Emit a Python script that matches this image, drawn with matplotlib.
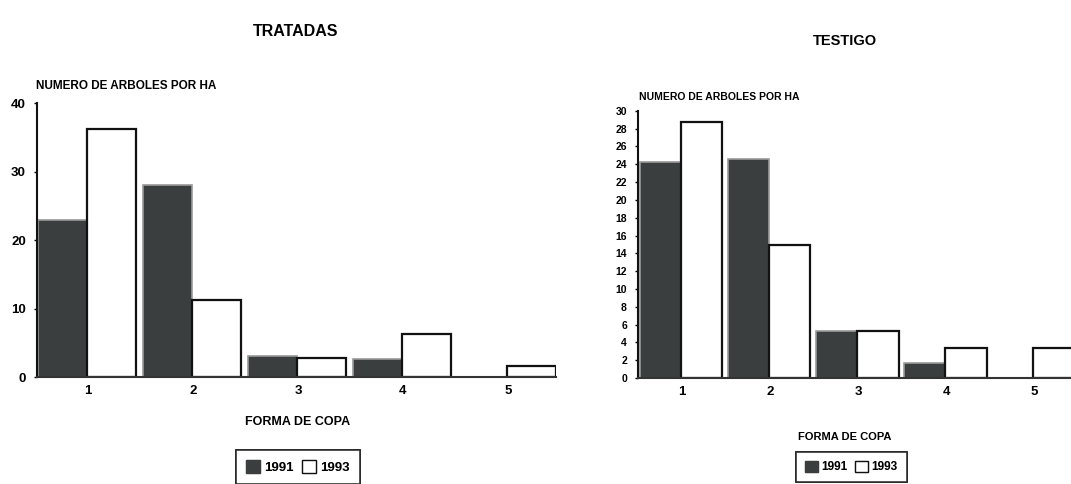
import matplotlib
matplotlib.use("Agg")
import matplotlib.pyplot as plt
import numpy as np
from matplotlib.patches import Patch

plt.rcParams['font.family'] = ['Liberation Sans', 'DejaVu Sans']
plt.rcParams['font.weight'] = 'bold'

categories = [1, 2, 3, 4, 5]
years = ["1991", "1993"]

# TRATADAS
tratadas_1991 = [22.9, 28.1, 3.1, 2.7, 0]
tratadas_1993 = [36.2, 11.2, 2.8, 6.3, 1.6]

# TESTIGO
testigo_1991 = [24.3, 24.6, 5.3, 1.7, 0]
testigo_1993 = [28.7, 14.9, 5.3, 3.4, 3.4]

DARK = "#3b3e3e"
W = 0.47

fig = plt.figure(figsize=(10.71, 4.84), dpi=100)


def draw_panel(ax, v91, v93, yticks, ymax, xlim, tick_size):
    x = np.array(categories)
    ax.bar(x - W / 2 - 0.01, v91, W, color=DARK, edgecolor="#9a9a9a", linewidth=1.2)
    ax.bar(x + W / 2 - 0.01, v93, W, color="white", edgecolor="#111111", linewidth=1.6)
    ax.set_xlim(*xlim)
    ax.set_ylim(0, ymax)
    ax.set_xticks(x)
    ax.set_xticklabels([str(c) for c in categories], fontsize=9.5, fontweight='heavy')
    ax.set_yticks(yticks)
    ax.set_yticklabels([str(t) for t in yticks], fontsize=tick_size, fontweight='heavy')
    ax.tick_params(axis='x', length=0, pad=6)
    ax.tick_params(axis='y', length=2, pad=6, width=1)
    for s in ["top", "right"]:
        ax.spines[s].set_visible(False)
    ax.spines["left"].set_linewidth(1.5)
    ax.spines["bottom"].set_linewidth(1.5)
    ax.spines["left"].set_color("#111111")
    ax.spines["bottom"].set_color("#333333")


ax1 = fig.add_axes([0.0345, 0.221, 0.4846, 0.566])
draw_panel(ax1, tratadas_1991, tratadas_1993, [0, 10, 20, 30, 40], 40, (0.514, 5.457), 9.5)

ax2 = fig.add_axes([0.5957, 0.219, 0.4043, 0.552])
draw_panel(ax2, testigo_1991, testigo_1993, list(range(0, 31, 2)), 30, (0.5, 5.42), 7.5)

# titles and labels
fig.text(0.276, 0.935, "TRATADAS", ha="center", va="center", fontsize=11.5, fontweight='heavy')
fig.text(0.789, 0.915, "TESTIGO", ha="center", va="center", fontsize=10.5, fontweight='heavy')
fig.text(0.034, 0.822, "NUMERO DE ARBOLES POR HA", ha="left", va="center", fontsize=8.5, fontweight='heavy')
fig.text(0.597, 0.800, "NUMERO DE ARBOLES POR HA", ha="left", va="center", fontsize=7.5, fontweight='heavy')
fig.text(0.278, 0.128, "FORMA DE COPA", ha="center", va="center", fontsize=9, fontweight='heavy')
fig.text(0.789, 0.097, "FORMA DE COPA", ha="center", va="center", fontsize=8, fontweight='heavy')

handles = [Patch(facecolor=DARK, edgecolor=DARK), Patch(facecolor="white", edgecolor="#111111")]
for cx, cy, fs in [(0.278, 0.035, 9.5), (0.795, 0.035, 8.5)]:
    leg = fig.legend(handles, years, loc="center", bbox_to_anchor=(cx, cy), ncol=2,
                     fontsize=fs, frameon=True, fancybox=False, handlelength=1.1,
                     handleheight=1.1, handletextpad=0.3, columnspacing=0.6,
                     borderpad=0.75, borderaxespad=0)
    leg.get_frame().set_edgecolor("#111111")
    leg.get_frame().set_linewidth(1.2)
    fig.add_artist(leg)

fig.savefig("out.png", dpi=100)
